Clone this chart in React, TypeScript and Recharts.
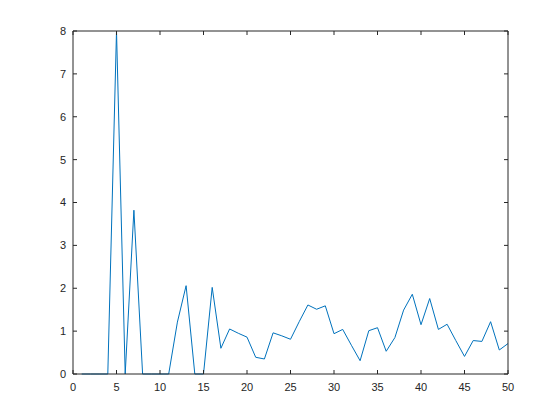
import React from "react";
import { LineChart, Line, XAxis, YAxis } from "recharts";

const BLUE = "#0072BD";
const AXIS = "#262626";

const xs = [
  1, 2, 3, 4, 5, 6, 7, 8, 9, 10,
  11, 12, 13, 14, 15, 16, 17, 18, 19, 20,
  21, 22, 23, 24, 25, 26, 27, 28, 29, 30,
  31, 32, 33, 34, 35, 36, 37, 38, 39, 40,
  41, 42, 43, 44, 45, 46, 47, 48, 49, 50,
];
const ys = [
  0, 0, 0, 0, 8, 0, 3.82, 0, 0, 0,
  0, 1.21, 2.06, 0, 0, 2.02, 0.6, 1.05, 0.95, 0.86,
  0.39, 0.35, 0.96, 0.89, 0.81, 1.22, 1.61, 1.51, 1.59, 0.94,
  1.04, 0.67, 0.31, 1.01, 1.08, 0.53, 0.85, 1.49, 1.86, 1.15,
  1.76, 1.04, 1.16, 0.78, 0.41, 0.78, 0.76, 1.22, 0.56, 0.71,
];
const xTicks = [0, 5, 10, 15, 20, 25, 30, 35, 40, 45, 50];
const yTicks = [0, 1, 2, 3, 4, 5, 6, 7, 8];

const data = xs.map((x, i) => ({ x, y: ys[i] }));
const blank = () => "";
const font = { fontSize: 11, fill: AXIS, fontFamily: "Liberation Sans, Arial, sans-serif" };

export default function App() {
  return (
    <div style={{ position: "absolute", left: 0, top: 0, background: "#fff" }}>
      <LineChart width={560} height={420} data={data} margin={{ top: 30, right: 51, bottom: 45, left: 72 }}>
        <XAxis dataKey="x" type="number" domain={[0, 50]} ticks={xTicks} height={1}
          stroke={AXIS} tickSize={-4} tickMargin={13} tick={font} interval={0} />
        <XAxis xAxisId="top" dataKey="x" orientation="top" type="number" domain={[0, 50]} ticks={xTicks} height={1}
          stroke={AXIS} tickSize={-4} tickFormatter={blank} interval={0} />
        <YAxis type="number" domain={[0, 8]} ticks={yTicks} width={1}
          stroke={AXIS} tickSize={-4} tickMargin={11} tick={font} interval={0} />
        <YAxis yAxisId="right" orientation="right" type="number" domain={[0, 8]} ticks={yTicks} width={1}
          stroke={AXIS} tickSize={-4} tickFormatter={blank} interval={0} />
        {/* carries the top and right frame axes, draws nothing */}
        <Line xAxisId="top" yAxisId="right" dataKey="y" stroke="none" dot={false} isAnimationActive={false} />
        <Line dataKey="y" stroke={BLUE} strokeWidth={1} dot={false} isAnimationActive={false} />
      </LineChart>
    </div>
  );
}
